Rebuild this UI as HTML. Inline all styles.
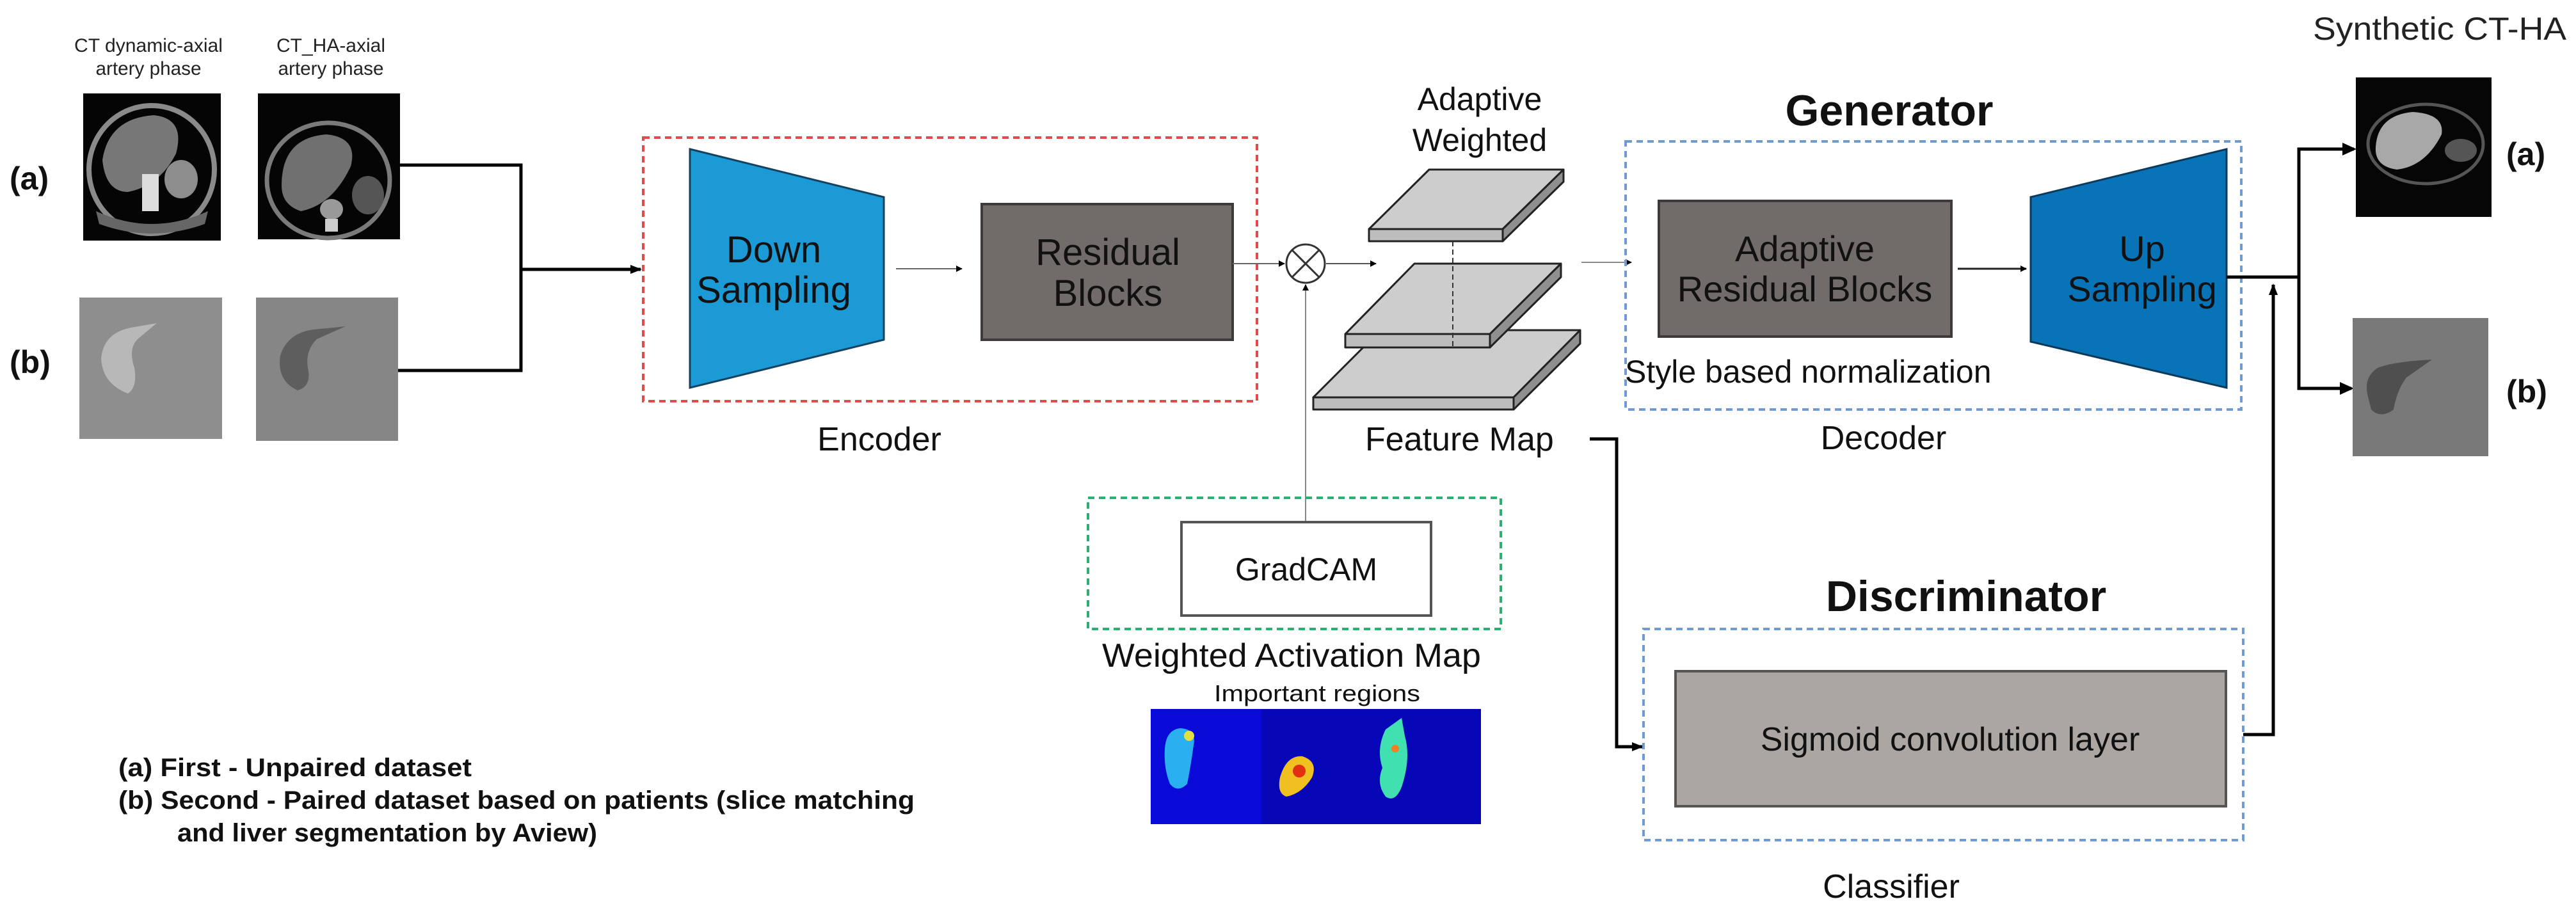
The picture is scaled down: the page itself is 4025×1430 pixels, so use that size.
<!DOCTYPE html>
<html><head><meta charset="utf-8"><style>html,body{margin:0;padding:0;background:#fff}svg{display:block}</style></head>
<body>
<svg width="4025" height="1430" viewBox="0 0 4025 1430" xmlns="http://www.w3.org/2000/svg" font-family="Liberation Sans, Arial, sans-serif">
<defs>
<marker id="ah" markerWidth="10" markerHeight="10" refX="9" refY="5" orient="auto" markerUnits="userSpaceOnUse" viewBox="0 0 10 10"><path d="M0,0 L10,5 L0,10z" fill="#000"/></marker>
<marker id="ahb" markerWidth="22" markerHeight="22" refX="20" refY="11" orient="auto" markerUnits="userSpaceOnUse" viewBox="0 0 22 22"><path d="M0,2 L22,11 L0,20z" fill="#000"/></marker>
<marker id="aht" markerWidth="18" markerHeight="18" refX="16" refY="9" orient="auto" markerUnits="userSpaceOnUse" viewBox="0 0 18 18"><path d="M0,2 L18,9 L0,16z" fill="#000"/></marker>
</defs>
<rect width="4025" height="1430" fill="#fff"/>

<!-- top labels -->
<g fill="#222" font-size="30" text-anchor="middle">
<text x="232" y="81" textLength="232" lengthAdjust="spacingAndGlyphs">CT dynamic-axial</text>
<text x="232" y="117" textLength="165" lengthAdjust="spacingAndGlyphs">artery phase</text>
<text x="517" y="81" textLength="170" lengthAdjust="spacingAndGlyphs">CT_HA-axial</text>
<text x="517" y="117" textLength="165" lengthAdjust="spacingAndGlyphs">artery phase</text>
</g>
<g font-size="50" font-weight="bold" fill="#111">
<text x="15" y="296">(a)</text>
<text x="15" y="583">(b)</text>
</g>

<!-- CT images (a) -->
<rect x="130" y="146" width="215" height="230" fill="#050505"/>
<ellipse cx="237" cy="265" rx="98" ry="100" fill="none" stroke="#8a8a8a" stroke-width="8"/>
<path d="M160,250 Q170,185 240,180 Q290,185 275,240 Q250,290 200,300 Q165,300 160,250z" fill="#777"/>
<ellipse cx="283" cy="280" rx="26" ry="30" fill="#8d8d8d"/>
<rect x="222" y="272" width="26" height="58" fill="#ddd"/>
<path d="M150,330 Q237,370 325,330 L320,350 Q237,380 155,350z" fill="#666"/>
<rect x="403" y="146" width="222" height="228" fill="#050505"/>
<ellipse cx="513" cy="282" rx="96" ry="90" fill="none" stroke="#7a7a7a" stroke-width="7"/>
<path d="M440,290 Q440,215 510,210 Q560,215 548,260 Q520,320 470,330 Q440,320 440,290z" fill="#707070"/>
<ellipse cx="575" cy="305" rx="25" ry="30" fill="#555"/>
<ellipse cx="518" cy="327" rx="18" ry="16" fill="#999"/>
<rect x="508" y="342" width="20" height="20" fill="#ccc"/>
<!-- (b) -->
<rect x="124" y="465" width="223" height="221" fill="#8e8e8e"/>
<path d="M200,615 Q160,600 158,560 Q162,520 205,512 L245,505 L215,530 Q200,545 210,575 Q215,605 200,615z" fill="#b8b8b8"/>
<rect x="400" y="465" width="222" height="224" fill="#868686"/>
<path d="M465,610 Q432,595 438,555 Q450,520 490,515 L540,510 L495,530 Q475,550 482,580 Q485,605 465,610z" fill="#5e5e5e"/>

<!-- input connectors -->
<g stroke="#000" stroke-width="5" fill="none">
<polyline points="625,258 814,258 814,579 622,579"/>
<line x1="814" y1="421" x2="1001" y2="421" marker-end="url(#aht)"/>
</g>

<!-- Encoder -->
<rect x="1005" y="215" width="959" height="412" fill="none" stroke="#e34a4a" stroke-width="4" stroke-dasharray="10,7"/>
<polygon points="1078,233 1381,308 1381,531 1078,606" fill="#1b9ad6" stroke="#17425e" stroke-width="3"/>
<g font-size="58" fill="#111" text-anchor="middle">
<text x="1209" y="410">Down</text>
<text x="1209" y="473">Sampling</text>
</g>
<line x1="1400" y1="420" x2="1503" y2="420" stroke="#666" stroke-width="2" marker-end="url(#ah)"/>
<rect x="1534" y="319" width="392" height="212" fill="#716b69" stroke="#3e3a39" stroke-width="4"/>
<g font-size="58" fill="#111" text-anchor="middle">
<text x="1731" y="414">Residual</text>
<text x="1731" y="478">Blocks</text>
</g>
<text x="1374" y="704" font-size="52" fill="#111" text-anchor="middle">Encoder</text>

<!-- multiply -->
<line x1="1926" y1="412" x2="2007" y2="412" stroke="#666" stroke-width="2" marker-end="url(#ah)"/>
<circle cx="2040" cy="412" r="30" fill="#fff" stroke="#333" stroke-width="3"/>
<line x1="2019" y1="391" x2="2061" y2="433" stroke="#333" stroke-width="3"/>
<line x1="2061" y1="391" x2="2019" y2="433" stroke="#333" stroke-width="3"/>
<line x1="2072" y1="412" x2="2150" y2="412" stroke="#555" stroke-width="2" marker-end="url(#ah)"/>
<line x1="2040" y1="816" x2="2040" y2="445" stroke="#888" stroke-width="2" marker-end="url(#ah)"/>

<!-- plates -->
<text x="2312" y="172" font-size="50" fill="#111" text-anchor="middle">Adaptive</text>
<text x="2312" y="236" font-size="50" fill="#111" text-anchor="middle">Weighted</text>
<g stroke="#222" stroke-width="3" stroke-linejoin="round">
<!-- bottom -->
<polygon points="2157,516 2469,516 2365,621 2052,621" fill="#cdcdcd"/>
<polygon points="2052,621 2365,621 2365,640 2052,640" fill="#bdbdbd"/>
<polygon points="2365,621 2469,516 2469,537 2365,640" fill="#8f8f8f"/>
<!-- mid -->
<polygon points="2210,412 2439,412 2328,522 2102,522" fill="#cdcdcd"/>
<polygon points="2102,522 2328,522 2328,543 2102,543" fill="#bdbdbd"/>
<polygon points="2328,522 2439,412 2439,433 2328,543" fill="#8f8f8f"/>
<!-- top -->
<polygon points="2233,265 2443,265 2348,358 2139,358" fill="#cdcdcd"/>
<polygon points="2139,358 2348,358 2348,377 2139,377" fill="#bdbdbd"/>
<polygon points="2348,358 2443,265 2443,284 2348,377" fill="#8f8f8f"/>
</g>
<line x1="2270" y1="377" x2="2270" y2="543" stroke="#333" stroke-width="2" stroke-dasharray="8,5"/>
<text x="2133" y="704" font-size="52" fill="#111">Feature Map</text>

<!-- GradCAM -->
<rect x="1700" y="778" width="645" height="205" fill="none" stroke="#2fae72" stroke-width="4" stroke-dasharray="10,7"/>
<rect x="1846" y="816" width="390" height="146" fill="#fff" stroke="#555" stroke-width="4"/>
<text x="2041" y="907" font-size="50" fill="#111" text-anchor="middle">GradCAM</text>
<text x="2018" y="1042" font-size="52" fill="#111" text-anchor="middle" textLength="592" lengthAdjust="spacingAndGlyphs">Weighted Activation Map</text>
<text x="2058" y="1096" font-size="36" fill="#111" text-anchor="middle" textLength="322" lengthAdjust="spacingAndGlyphs">Important regions</text>
<!-- heatmap -->
<rect x="1798" y="1108" width="516" height="180" fill="#0a0ad8"/>
<rect x="1971" y="1108" width="343" height="180" fill="#0707b8"/>
<path d="M1820,1170 Q1822,1140 1845,1138 Q1870,1140 1865,1165 Q1860,1200 1855,1225 Q1840,1240 1828,1225 Q1818,1200 1820,1170z" fill="#2ab0f0"/>
<circle cx="1858" cy="1150" r="8" fill="#e0e040"/>
<path d="M2000,1215 Q2010,1180 2035,1182 Q2060,1190 2050,1215 Q2035,1240 2010,1245 Q1995,1240 2000,1215z" fill="#f0c020"/>
<circle cx="2030" cy="1205" r="10" fill="#e03010"/>
<path d="M2165,1140 L2190,1122 L2195,1150 Q2205,1185 2190,1230 Q2180,1255 2165,1245 Q2150,1225 2160,1200 Q2150,1170 2165,1140z" fill="#40e0b0"/>
<circle cx="2180" cy="1170" r="6" fill="#f08020"/>

<!-- Generator / Decoder -->
<text x="2952" y="196" font-size="68" font-weight="bold" fill="#111" text-anchor="middle">Generator</text>
<line x1="2471" y1="410" x2="2549" y2="410" stroke="#888" stroke-width="2" marker-end="url(#ah)"/>
<rect x="2540" y="221" width="962" height="419" fill="none" stroke="#6f9bd4" stroke-width="4" stroke-dasharray="10,7"/>
<rect x="2592" y="314" width="457" height="212" fill="#716b69" stroke="#3e3a39" stroke-width="4"/>
<g font-size="56" fill="#111" text-anchor="middle">
<text x="2820" y="408">Adaptive</text>
<text x="2820" y="471">Residual Blocks</text>
</g>
<line x1="3059" y1="420" x2="3166" y2="420" stroke="#222" stroke-width="3" marker-end="url(#ah)"/>
<polygon points="3173,308 3479,233 3479,606 3173,534" fill="#0873b6" stroke="#0b3a5c" stroke-width="3"/>
<g font-size="56" fill="#111" text-anchor="middle">
<text x="3347" y="408">Up</text>
<text x="3347" y="471">Sampling</text>
</g>
<text x="2539" y="598" font-size="50" fill="#111">Style based normalization</text>
<text x="2943" y="702" font-size="52" fill="#111" text-anchor="middle">Decoder</text>

<!-- Feature map to discriminator -->
<polyline points="2484,686 2526,686 2526,1167 2566,1167" fill="none" stroke="#000" stroke-width="5" marker-end="url(#aht)"/>

<!-- Discriminator -->
<text x="3072" y="955" font-size="68" font-weight="bold" fill="#111" text-anchor="middle">Discriminator</text>
<rect x="2568" y="983" width="937" height="330" fill="none" stroke="#6f9bd4" stroke-width="4" stroke-dasharray="10,7"/>
<rect x="2618" y="1049" width="860" height="211" fill="#aca6a3" stroke="#555" stroke-width="4"/>
<text x="3047" y="1173" font-size="52" fill="#111" text-anchor="middle">Sigmoid convolution layer</text>
<text x="2955" y="1403" font-size="52" fill="#111" text-anchor="middle">Classifier</text>
<polyline points="3505,1148 3552,1148 3552,445" fill="none" stroke="#000" stroke-width="5" marker-end="url(#aht)"/>

<!-- Output connectors -->
<g stroke="#000" stroke-width="5" fill="none">
<line x1="3479" y1="433" x2="3592" y2="433"/>
<polyline points="3678,233 3592,233 3592,607 3674,607"/>
</g>
<path d="M3682,233 L3660,223 L3660,243z" fill="#000"/>
<path d="M3678,607 L3656,597 L3656,617z" fill="#000"/>

<text x="3812" y="62" font-size="50" fill="#222" text-anchor="middle" textLength="396" lengthAdjust="spacingAndGlyphs">Synthetic CT-HA</text>
<rect x="3681" y="121" width="212" height="218" fill="#060606"/>
<ellipse cx="3790" cy="225" rx="90" ry="62" fill="none" stroke="#555" stroke-width="5"/>
<path d="M3712,230 Q3715,180 3770,175 Q3820,178 3815,210 Q3790,260 3745,265 Q3710,260 3712,230z" fill="#a8a8a8"/>
<ellipse cx="3845" cy="235" rx="25" ry="18" fill="#555"/>
<rect x="3670" y="0" width="0" height="0"/>
<rect x="3676" y="497" width="212" height="216" fill="#797979"/>
<path d="M3700,620 Q3692,590 3715,575 Q3740,565 3800,562 L3760,590 Q3745,610 3740,640 Q3720,655 3705,640z" fill="#4f4f4f"/>
<g font-size="50" font-weight="bold" fill="#111">
<text x="3916" y="258">(a)</text>
<text x="3916" y="629">(b)</text>
</g>

<!-- Legend -->
<g font-size="40" font-weight="bold" fill="#111">
<text x="185" y="1213" textLength="552" lengthAdjust="spacingAndGlyphs">(a)  First - Unpaired dataset</text>
<text x="185" y="1264" textLength="1244" lengthAdjust="spacingAndGlyphs">(b)  Second - Paired dataset based on patients  (slice matching</text>
<text x="277" y="1315" textLength="656" lengthAdjust="spacingAndGlyphs">and liver segmentation by Aview)</text>
</g>
</svg>
</body></html>
